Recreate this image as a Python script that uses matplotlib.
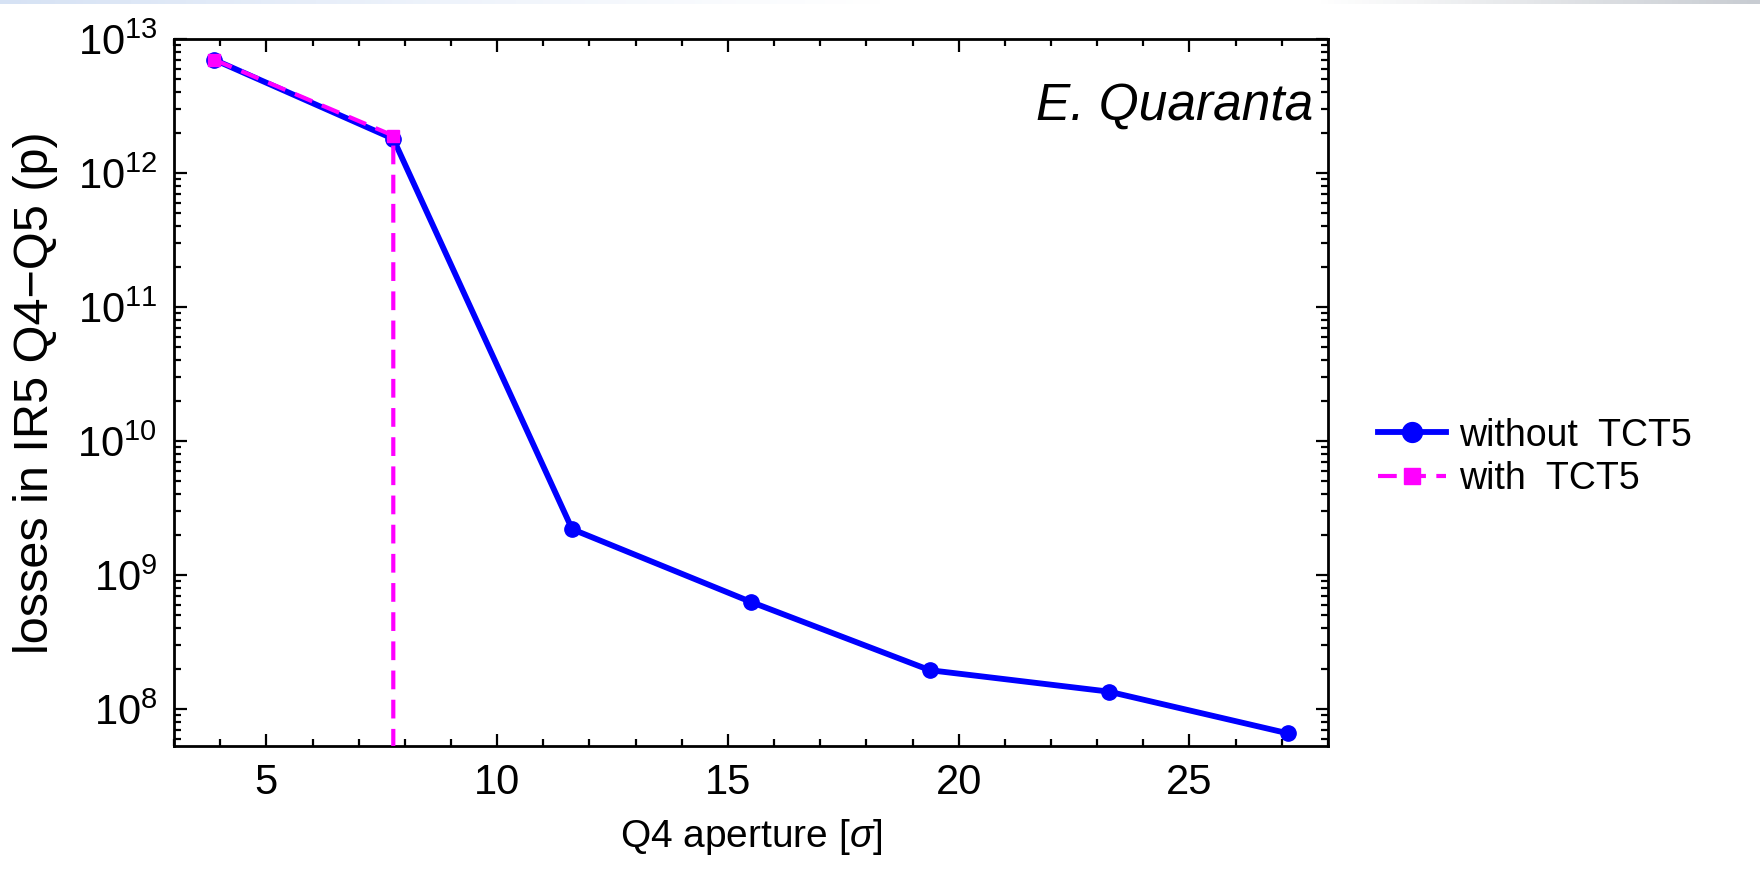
import numpy as np
import matplotlib
matplotlib.use('Agg')
from matplotlib import pyplot as plt
from matplotlib.ticker import LogLocator, LogFormatterSciNotation, MultipleLocator, NullFormatter

plt.rcParams['font.family'] = ['Liberation Sans', 'DejaVu Sans']
plt.rcParams['mathtext.fontset'] = 'custom'
plt.rcParams['mathtext.rm'] = 'Liberation Sans'
plt.rcParams['mathtext.it'] = 'Liberation Sans:italic'

# Q4 aperture scan (in sigma) and the losses in IR5 between Q4 and Q5
aperture = [3.875, 7.75, 11.625, 15.5, 19.375, 23.25, 27.125]
losses_without_tct5 = [7.0e12, 1.8e12, 2.2e9, 6.3e8, 1.95e8, 1.35e8, 6.6e7]

# with TCT5 the losses vanish once the Q4 opens beyond 7.75 sigma
aperture_tct5 = [3.875, 7.75, 7.75]
losses_with_tct5 = [7.0e12, 1.9e12, 1.0e6]

x_limits = (3.0, 28.0)
y_limits = (5.3e7, 1.0e13)

fig = plt.figure(figsize=(17.6, 8.71), dpi=100)
ax = fig.add_axes([0.0989, 0.1435, 0.6556, 0.8117])

ax.plot(aperture, losses_without_tct5, color='#0000ff', lw=4.2, marker='o', ms=11,
        label='without  TCT5', zorder=3)
ax.plot(aperture_tct5, losses_with_tct5, color='#ff00ff', lw=3.0, ls=(0, (4.5, 2.5)),
        marker='s', ms=9, label='with  TCT5', zorder=4)

ax.set_yscale('log')
ax.set_xlim(*x_limits)
ax.set_ylim(*y_limits)

ax.xaxis.set_major_locator(MultipleLocator(5))
ax.xaxis.set_minor_locator(MultipleLocator(1))
ax.yaxis.set_major_locator(LogLocator(base=10, numticks=20))
ax.yaxis.set_minor_locator(LogLocator(base=10, subs=np.arange(2, 10), numticks=20))
ax.yaxis.set_major_formatter(LogFormatterSciNotation())
ax.yaxis.set_minor_formatter(NullFormatter())

ax.tick_params(which='both', direction='in', top=True, right=True, width=1.6,
               labelsize=30, pad=12)
ax.tick_params(which='major', length=9)
ax.tick_params(which='minor', length=5)
for spine in ax.spines.values():
    spine.set_linewidth(2.0)

ax.set_xlabel(r'Q4 aperture [$\sigma$]', fontsize=28, labelpad=10)
ax.set_ylabel('losses in IR5 Q4\u2212Q5 (p)', fontsize=35, labelpad=14)

ax.text(0.987, 0.905, 'E. Quaranta', transform=ax.transAxes, ha='right', va='center',
        fontsize=37, style='italic')

fig.legend(loc='center left', bbox_to_anchor=(0.783, 0.475), frameon=False, fontsize=27,
           borderpad=0, borderaxespad=0, handlelength=1.8, handletextpad=0.35,
           labelspacing=0.2, markerscale=1.3)

# faint slide header strip along the top edge
strip = fig.add_axes([0.0, 0.995, 1.0, 0.005])
gradient = np.linspace(0, 1, 256)[None, :]
strip.imshow(gradient, aspect='auto', cmap=matplotlib.colors.LinearSegmentedColormap.from_list(
    'header', ['#d6e2f4', '#eef3fb', '#ffffff', '#ffffff', '#c8ccd2']))
strip.axis('off')

fig.savefig('out.png', dpi=100)
